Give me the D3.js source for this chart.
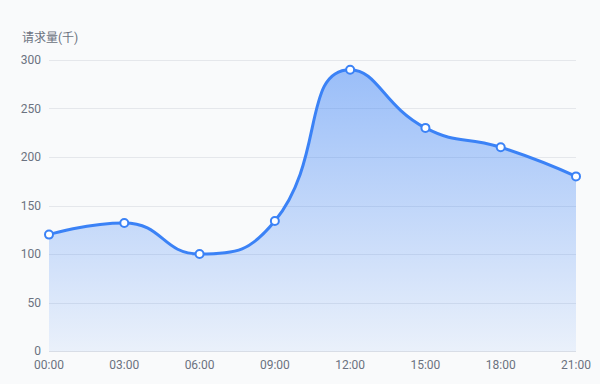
<!doctype html>
<html>
<head>
<meta charset="utf-8">
<script src="https://d3js.org/d3.v7.min.js"></script>
<style>
  body { margin: 0; background: #f9fafb; }
  text { font-family: Roboto, "Noto Sans CJK SC", sans-serif; }
</style>
</head>
<body>
<svg width="600" height="384"></svg>
<script>
var hours = ["00:00", "03:00", "06:00", "09:00", "12:00", "15:00", "18:00", "21:00"];
var requests = [120, 132, 100, 134, 290, 230, 210, 180];
var yTicks = [0, 50, 100, 150, 200, 250, 300];

var svg = d3.select("svg");
var plotLeft = 49, plotRight = 576, plotTop = 60, plotBottom = 351;

var x = d3.scalePoint().domain(hours).range([plotLeft, plotRight]);
var y = d3.scaleLinear().domain([0, 300]).range([plotBottom, plotTop]);

// smooth curve with control points clamped so it never overshoots a point
function SmoothCurve(context) { this._context = context; }
SmoothCurve.prototype = {
  areaStart: function() { this._line = 0; },
  areaEnd: function() { this._line = NaN; },
  lineStart: function() { this._pts = []; },
  point: function(px, py) { this._pts.push([+px, +py]); },
  lineEnd: function() {
    var ctx = this._context, p = this._pts, s = 0.5;
    var cx0, cy0, cx1, cy1, ncx, ncy;
    for (var i = 0; i < p.length; i++) {
      var px = p[i][0], py = p[i][1];
      if (i === 0) {
        if (this._line) ctx.lineTo(px, py); else ctx.moveTo(px, py);
        cx0 = px; cy0 = py;
        continue;
      }
      var qx = p[i - 1][0], qy = p[i - 1][1];
      if (i === p.length - 1) {
        cx1 = px; cy1 = py;
      } else {
        var nx = p[i + 1][0], ny = p[i + 1][1];
        var vx = nx - qx, vy = ny - qy;
        var lp = Math.hypot(px - qx, py - qy), ln = Math.hypot(nx - px, ny - py);
        var r = ln / (ln + lp);
        ncx = px + vx * s * r; ncy = py + vy * s * r;
        ncx = Math.max(Math.min(ncx, Math.max(nx, px)), Math.min(nx, px));
        ncy = Math.max(Math.min(ncy, Math.max(ny, py)), Math.min(ny, py));
        vx = ncx - px; vy = ncy - py;
        cx1 = px - vx * lp / ln; cy1 = py - vy * lp / ln;
        cx1 = Math.max(Math.min(cx1, Math.max(qx, px)), Math.min(qx, px));
        cy1 = Math.max(Math.min(cy1, Math.max(qy, py)), Math.min(qy, py));
        vx = px - cx1; vy = py - cy1;
        ncx = px + vx * ln / lp; ncy = py + vy * ln / lp;
      }
      ctx.bezierCurveTo(cx0, cy0, cx1, cy1, px, py);
      cx0 = ncx; cy0 = ncy;
    }
    if (this._line || (this._line !== 0 && p.length === 1)) ctx.closePath();
    this._line = 1 - this._line;
  }
};
var smoothCurve = function(context) { return new SmoothCurve(context); };

svg.append("rect").attr("width", 600).attr("height", 384).attr("fill", "#f9fafb");

var defs = svg.append("defs");
var grad = defs.append("linearGradient").attr("id", "fill")
    .attr("x1", 0).attr("y1", 0).attr("x2", 0).attr("y2", 1);
grad.append("stop").attr("offset", "0%").attr("stop-color", "#3b82f6").attr("stop-opacity", 0.5);
grad.append("stop").attr("offset", "100%").attr("stop-color", "#3b82f6").attr("stop-opacity", 0.08);

// grid
svg.append("g").selectAll("line").data(yTicks.slice(1)).enter().append("line")
    .attr("x1", plotLeft).attr("x2", plotRight)
    .attr("y1", function(d) { return Math.round(y(d)) + 0.5; })
    .attr("y2", function(d) { return Math.round(y(d)) + 0.5; })
    .attr("stroke", "#e5e7eb").attr("stroke-width", 1);

var data = hours.map(function(h, i) { return { h: h, v: requests[i] }; });

var area = d3.area()
    .x(function(d) { return x(d.h); })
    .y0(plotBottom)
    .y1(function(d) { return y(d.v); })
    .curve(smoothCurve);

var line = d3.line()
    .x(function(d) { return x(d.h); })
    .y(function(d) { return y(d.v); })
    .curve(smoothCurve);

svg.append("path").datum(data).attr("d", area).attr("fill", "url(#fill)");

// x axis line
svg.append("line").attr("x1", plotLeft).attr("x2", plotRight)
    .attr("y1", plotBottom + 0.5).attr("y2", plotBottom + 0.5)
    .attr("stroke", "#d8dde6");

svg.append("path").datum(data).attr("d", line)
    .attr("fill", "none").attr("stroke", "#3b82f6").attr("stroke-width", 3);

svg.append("g").selectAll("circle").data(data).enter().append("circle")
    .attr("cx", function(d) { return x(d.h); })
    .attr("cy", function(d) { return y(d.v); })
    .attr("r", 4)
    .attr("fill", "#fff").attr("stroke", "#3b82f6").attr("stroke-width", 2);

// y labels
svg.append("g").selectAll("text").data(yTicks).enter().append("text")
    .attr("x", 41).attr("y", function(d) { return y(d); })
    .attr("dy", "0.35em").attr("text-anchor", "end")
    .attr("font-size", 12).attr("fill", "#6b7280")
    .text(function(d) { return d; });

// x labels
svg.append("g").selectAll("text").data(hours).enter().append("text")
    .attr("x", function(d) { return x(d); }).attr("y", plotBottom + 18)
    .attr("text-anchor", "middle")
    .attr("font-size", 12).attr("fill", "#6b7280")
    .text(function(d) { return d; });

svg.append("text").attr("x", 22).attr("y", 42)
    .attr("font-size", 12).attr("fill", "#6b7280")
    .text("请求量(千)");
</script>
</body>
</html>
